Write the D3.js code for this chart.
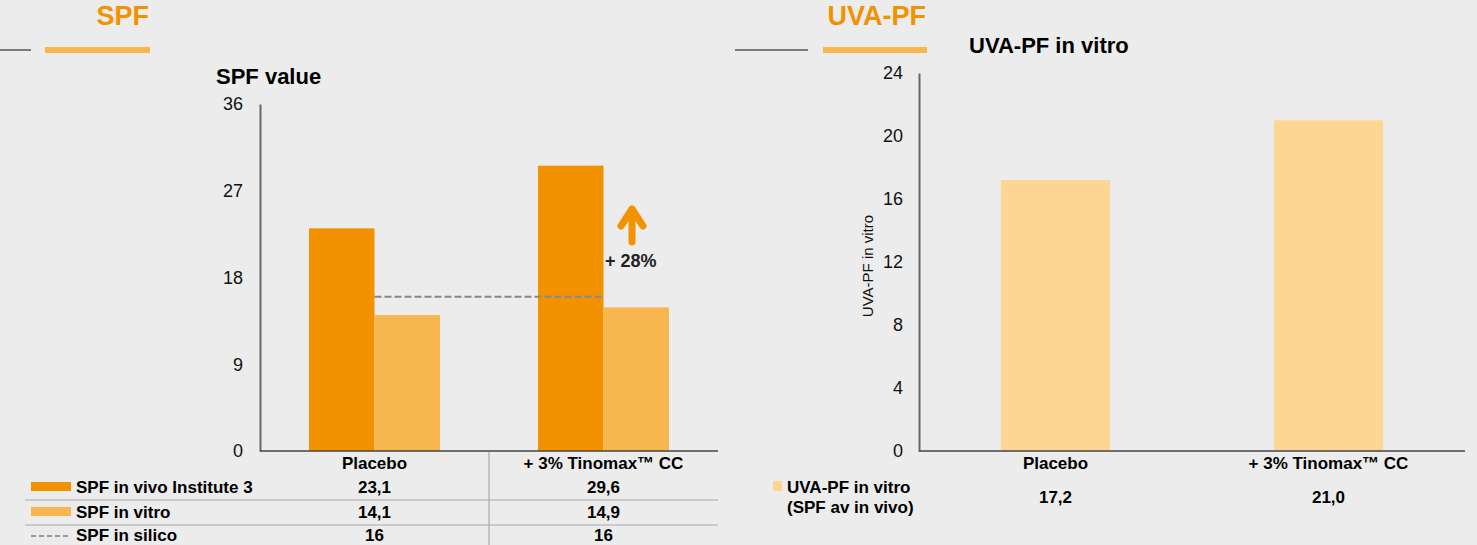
<!DOCTYPE html>
<html>
<head>
<meta charset="utf-8">
<script src="https://cdn.jsdelivr.net/npm/d3@7"></script>
<style>
  html, body { margin: 0; padding: 0; background: #ececec; }
  svg { display: block; font-family: "Liberation Sans", Arial, sans-serif; }
</style>
</head>
<body>
<svg id="chart" width="1477" height="545"></svg>
<script>
(function () {
    // === Data ===
    const categories = ["Placebo", "+ 3% Tinomax\u2122 CC"];
    const spfSeries = ["SPF in vivo Institute 3", "SPF in vitro"];
    const spfInVivo = [23.1, 29.6];
    const spfInVitro = [14.1, 14.9];
    const spfInSilico = [16, 16];
    const spfTicks = [0, 9, 18, 27, 36];
    const uvaSeries = ["UVA-PF in vitro", "(SPF av in vivo)"];
    const uvaPf = [17.2, 21.0];
    const uvaTicks = [0, 4, 8, 12, 16, 20, 24];
    const increaseLabel = "+ 28%";

    const C_DARK = "#f39200", C_LIGHT = "#f7b64e", C_PEACH = "#fed694";
    const comma = d3.formatLocale({ decimal: ",", thousands: ".", grouping: [3], currency: ["", ""] });
    const f1 = comma.format(".1f"), f0 = comma.format(".0f");

    const svg = d3.select("#chart");

    function header(g, title, grayX0, grayX1, barX0, barX1) {
        g.append("text").attr("x", barX1 - 1).attr("y", 25)
            .attr("text-anchor", "end").attr("fill", C_DARK)
            .style("font-size", "27px").style("font-weight", "bold").text(title);
        g.append("line").attr("x1", grayX0).attr("x2", grayX1).attr("y1", 50).attr("y2", 50)
            .attr("stroke", "#555").attr("stroke-width", 1.5);
        g.append("rect").attr("x", barX0).attr("y", 47).attr("width", barX1 - barX0).attr("height", 6)
            .attr("fill", C_LIGHT);
    }

    // ================= SPF chart =================
    const left = svg.append("g");
    header(left, "SPF", 0, 31, 45, 150);

    left.append("text").attr("x", 216).attr("y", 84)
        .style("font-size", "22px").style("font-weight", "bold").text("SPF value");

    const x0 = d3.scaleBand().domain(categories).range([260, 718]);
    const x1 = d3.scaleBand().domain(spfSeries).range([0, x0.bandwidth()]).paddingOuter(0.748);
    const y = d3.scaleLinear().domain([0, 36]).range([451, 104]);

    const yAx = left.append("g").attr("transform", "translate(260,0)")
        .call(d3.axisLeft(y).tickValues(spfTicks).tickSize(0).tickPadding(17));
    yAx.select(".domain").attr("stroke", "#666").attr("stroke-width", 2);
    yAx.selectAll("text").style("font-size", "18px").attr("fill", "#111")
        .style("font-family", "'Liberation Sans', Arial, sans-serif");

    const bars = categories.map((c, i) => ({ c, vals: [spfInVivo[i], spfInVitro[i]] }));
    left.append("g").selectAll("g").data(bars).join("g")
        .attr("transform", d => `translate(${x0(d.c)},0)`)
        .selectAll("rect").data(d => d.vals.map((v, j) => ({ s: spfSeries[j], v })))
        .join("rect")
        .attr("x", d => x1(d.s)).attr("width", x1.bandwidth())
        .attr("y", d => y(d.v)).attr("height", d => y(0) - y(d.v))
        .attr("fill", (d, j) => j === 0 ? C_DARK : C_LIGHT);

    // in silico dashed line, from group centre to group centre
    const mid = c => x0(c) + x0.bandwidth() / 2;
    left.append("path")
        .attr("d", d3.line()(categories.map((c, i) => [mid(c) + (i === categories.length - 1 ? 1 : 0), y(spfInSilico[i])])))
        .attr("stroke", "#888").attr("stroke-width", 2).attr("stroke-dasharray", "7,3").attr("fill", "none");

    // x axis line
    left.append("line").attr("x1", 260).attr("x2", 718).attr("y1", y(0)).attr("y2", y(0))
        .attr("stroke", "#444").attr("stroke-width", 1.5);

    // increase arrow
    const ax = 632;
    left.append("path")
        .attr("d", `M${ax},242 L${ax},209 M${ax - 11},226 L${ax},209 L${ax + 11},226`)
        .attr("stroke", C_DARK).attr("stroke-width", 7).attr("fill", "none")
        .attr("stroke-linecap", "round").attr("stroke-linejoin", "round");
    left.append("text").attr("x", 605).attr("y", 267).attr("fill", "#222")
        .style("font-size", "18px").style("font-weight", "bold").text(increaseLabel);

    // table
    const tbl = left.append("g").style("font-weight", "bold").style("font-size", "17px");
    tbl.append("line").attr("x1", x0(categories[1])).attr("x2", x0(categories[1]))
        .attr("y1", 452).attr("y2", 545).attr("stroke", "#aaa").attr("stroke-width", 1.2);
    [500, 525].forEach(yy => tbl.append("line").attr("x1", 25).attr("x2", 718)
        .attr("y1", yy).attr("y2", yy).attr("stroke", "#aaa").attr("stroke-width", 1.2));

    tbl.selectAll("text.cat").data(categories).join("text").attr("class", "cat")
        .attr("x", d => mid(d)).attr("y", 469).attr("text-anchor", "middle").text(d => d);

    const rows = [
        { name: spfSeries[0], vals: spfInVivo, fmt: f1, kind: "dark", base: 493 },
        { name: spfSeries[1], vals: spfInVitro, fmt: f1, kind: "light", base: 518 },
        { name: "SPF in silico", vals: spfInSilico, fmt: f0, kind: "dash", base: 541 }
    ];
    rows.forEach(r => {
        const base = r.base;
        if (r.kind === "dash") {
            tbl.append("line").attr("x1", 31).attr("x2", 71).attr("y1", base - 5).attr("y2", base - 5)
                .attr("stroke", "#999").attr("stroke-width", 2).attr("stroke-dasharray", "5,3");
        } else {
            tbl.append("rect").attr("x", 31).attr("y", base - 11).attr("width", 40).attr("height", 9)
                .attr("fill", r.kind === "dark" ? C_DARK : C_LIGHT);
        }
        tbl.append("text").attr("x", 76).attr("y", base).text(r.name);
        categories.forEach((c, j) => tbl.append("text").attr("x", mid(c)).attr("y", base)
            .attr("text-anchor", "middle").text(r.fmt(r.vals[j])));
    });

    // ================= UVA-PF chart =================
    const right = svg.append("g");
    header(right, "UVA-PF", 735, 808, 823, 927);

    right.append("text").attr("x", 969).attr("y", 53)
        .style("font-size", "22px").style("font-weight", "bold").text("UVA-PF in vitro");

    const xr = d3.scaleBand().domain(categories).range([919, 1465]).paddingInner(0.6).paddingOuter(0.3);
    const xrFull = d3.scaleBand().domain(categories).range([919, 1465]);
    const yr = d3.scaleLinear().domain([0, 24]).range([451, 73]);

    const yrAx = right.append("g").attr("transform", "translate(919,0)")
        .call(d3.axisLeft(yr).tickValues(uvaTicks).tickSize(0).tickPadding(16));
    yrAx.select(".domain").attr("stroke", "#666").attr("stroke-width", 2);
    yrAx.selectAll("text").style("font-size", "18px").attr("fill", "#111")
        .style("font-family", "'Liberation Sans', Arial, sans-serif");

    right.append("text").attr("transform", "translate(873,266) rotate(-90)")
        .attr("text-anchor", "middle").style("font-size", "15px").attr("fill", "#111")
        .text("UVA-PF in vitro");

    right.append("g").selectAll("rect").data(categories.map((c, i) => ({ c, v: uvaPf[i] }))).join("rect")
        .attr("x", d => xr(d.c)).attr("width", xr.bandwidth())
        .attr("y", d => yr(d.v)).attr("height", d => yr(0) - yr(d.v))
        .attr("fill", C_PEACH);

    right.append("line").attr("x1", 919).attr("x2", 1465).attr("y1", yr(0)).attr("y2", yr(0))
        .attr("stroke", "#444").attr("stroke-width", 1.5);

    const rt = right.append("g").style("font-weight", "bold").style("font-size", "17px");
    const rmid = c => xrFull(c) + xrFull.bandwidth() / 2;
    rt.selectAll("text.cat").data(categories).join("text").attr("class", "cat")
        .attr("x", d => rmid(d)).attr("y", 469).attr("text-anchor", "middle").text(d => d);
    rt.append("rect").attr("x", 773).attr("y", 481).attr("width", 9).attr("height", 10).attr("fill", C_PEACH);
    uvaSeries.forEach((s, i) => rt.append("text").attr("x", 787).attr("y", 493 + i * 20).text(s));
    categories.forEach((c, j) => rt.append("text").attr("x", rmid(c)).attr("y", 503)
        .attr("text-anchor", "middle").text(f1(uvaPf[j])));
})();
</script>
</body>
</html>
